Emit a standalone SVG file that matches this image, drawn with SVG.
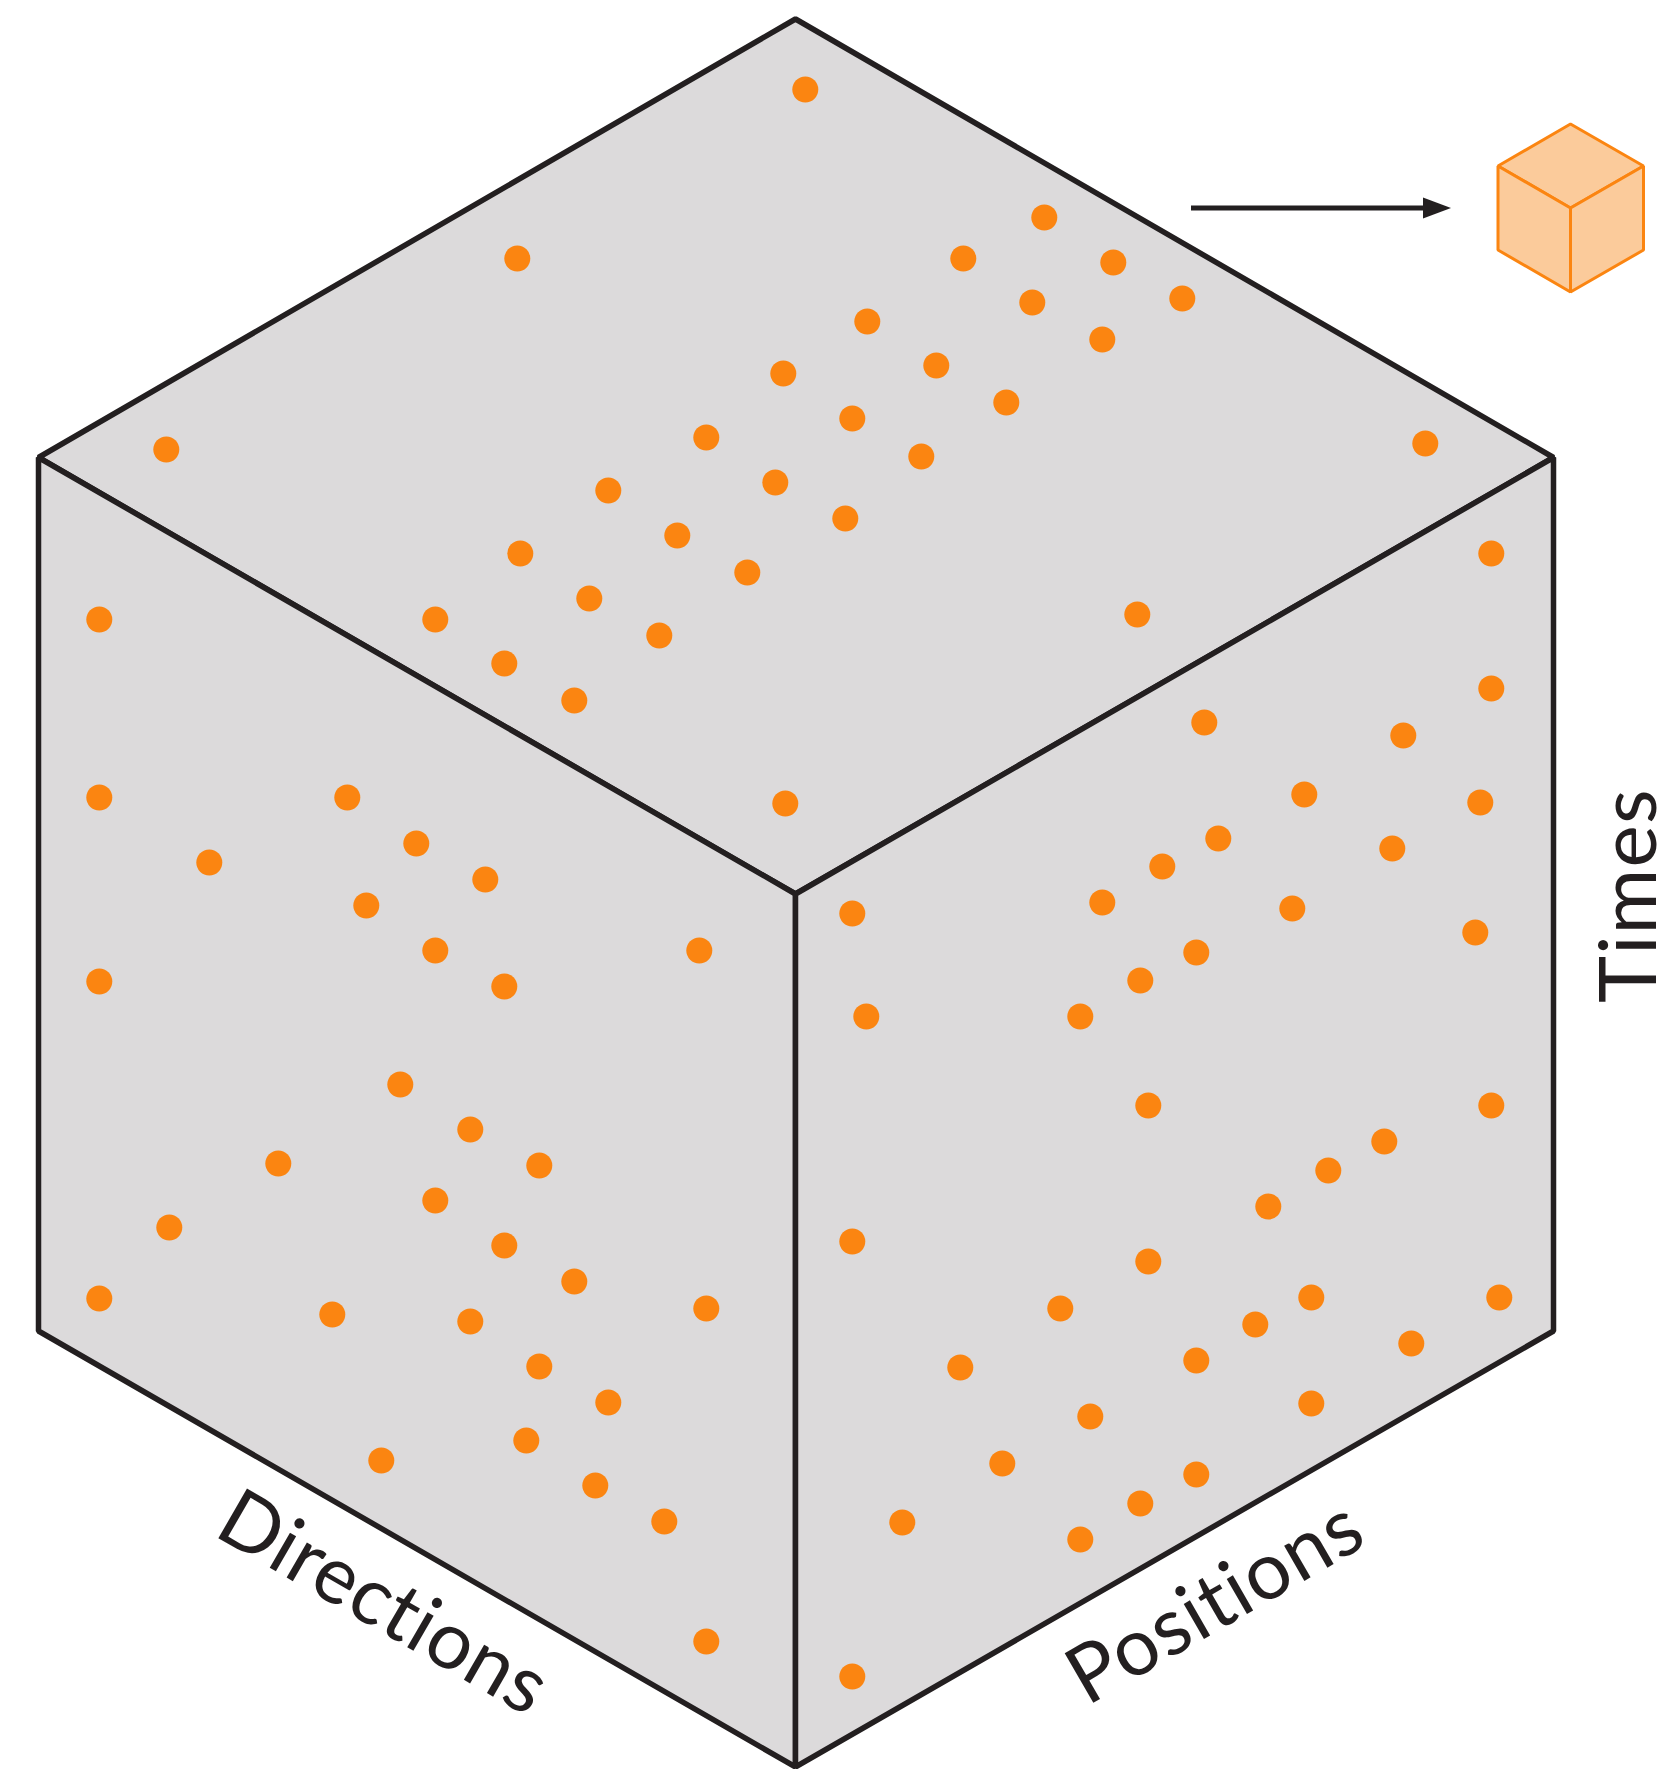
<svg xmlns="http://www.w3.org/2000/svg" width="1666" height="1769" viewBox="0 0 1666 1769">
<style>
.face{fill:#dcdadb;stroke:#231f20;stroke-width:5.5;stroke-linejoin:bevel}
.small{fill:#fbcb9b;stroke:#fb8511;stroke-width:3;stroke-linejoin:bevel}
.dots circle{fill:#fb8511}
.lbl{font-family:"Lato","Open Sans",sans-serif;font-size:80px;fill:#231f20}
</style>
<g id="cube">
<path class="face" d="M795.5 19L1553.5 457.5L795.5 894L38.5 457.5Z"/>
<path class="face" d="M38.5 457.5L795.5 894V1767L38.5 1331Z"/>
<path class="face" d="M1553.5 457.5L795.5 894V1767L1553.5 1331Z"/>
</g>
<g transform="translate(0.3 0.5)">
<g id="dots-top" class="dots">
<circle cx="805" cy="89" r="13"/><circle cx="517" cy="258" r="13"/><circle cx="1044" cy="217" r="13"/><circle cx="963" cy="258" r="13"/><circle cx="1113" cy="262" r="13"/><circle cx="867" cy="321" r="13"/><circle cx="1032" cy="302" r="13"/><circle cx="1182" cy="298" r="13"/><circle cx="1102" cy="339" r="13"/><circle cx="783" cy="373" r="13"/><circle cx="936" cy="365" r="13"/><circle cx="1006" cy="402" r="13"/><circle cx="706" cy="437" r="13"/><circle cx="852" cy="418" r="13"/><circle cx="921" cy="456" r="13"/><circle cx="166" cy="449" r="13"/><circle cx="1425" cy="443" r="13"/><circle cx="608" cy="490" r="13"/><circle cx="775" cy="482" r="13"/><circle cx="845" cy="518" r="13"/><circle cx="520" cy="553" r="13"/><circle cx="677" cy="535" r="13"/><circle cx="747" cy="572" r="13"/><circle cx="435" cy="619" r="13"/><circle cx="589" cy="598" r="13"/><circle cx="659" cy="635" r="13"/><circle cx="504" cy="663" r="13"/><circle cx="574" cy="700" r="13"/><circle cx="1137" cy="614" r="13"/><circle cx="785" cy="803" r="13"/>
</g>
<g id="dots-left" class="dots">
<circle cx="99" cy="619" r="13"/><circle cx="99" cy="797" r="13"/><circle cx="347" cy="797" r="13"/><circle cx="416" cy="843" r="13"/><circle cx="485" cy="879" r="13"/><circle cx="209" cy="862" r="13"/><circle cx="366" cy="905" r="13"/><circle cx="435" cy="950" r="13"/><circle cx="504" cy="986" r="13"/><circle cx="699" cy="950" r="13"/><circle cx="99" cy="981" r="13"/><circle cx="400" cy="1084" r="13"/><circle cx="470" cy="1129" r="13"/><circle cx="539" cy="1165" r="13"/><circle cx="278" cy="1163" r="13"/><circle cx="435" cy="1200" r="13"/><circle cx="504" cy="1245" r="13"/><circle cx="574" cy="1281" r="13"/><circle cx="169" cy="1227" r="13"/><circle cx="99" cy="1298" r="13"/><circle cx="332" cy="1314" r="13"/><circle cx="470" cy="1321" r="13"/><circle cx="706" cy="1308" r="13"/><circle cx="539" cy="1366" r="13"/><circle cx="608" cy="1402" r="13"/><circle cx="381" cy="1460" r="13"/><circle cx="526" cy="1440" r="13"/><circle cx="595" cy="1485" r="13"/><circle cx="664" cy="1521" r="13"/><circle cx="706" cy="1641" r="13"/>
</g>
<g id="dots-right" class="dots">
<circle cx="1491" cy="553" r="13"/><circle cx="1491" cy="688" r="13"/><circle cx="1204" cy="722" r="13"/><circle cx="1403" cy="735" r="13"/><circle cx="1304" cy="794" r="13"/><circle cx="1480" cy="802" r="13"/><circle cx="1218" cy="838" r="13"/><circle cx="1162" cy="866" r="13"/><circle cx="1392" cy="848" r="13"/><circle cx="1102" cy="902" r="13"/><circle cx="1292" cy="908" r="13"/><circle cx="1475" cy="932" r="13"/><circle cx="1196" cy="952" r="13"/><circle cx="1140" cy="980" r="13"/><circle cx="1080" cy="1016" r="13"/><circle cx="852" cy="913" r="13"/><circle cx="866" cy="1016" r="13"/><circle cx="1148" cy="1105" r="13"/><circle cx="1491" cy="1105" r="13"/><circle cx="1384" cy="1141" r="13"/><circle cx="1328" cy="1170" r="13"/><circle cx="1268" cy="1206" r="13"/><circle cx="852" cy="1241" r="13"/><circle cx="1148" cy="1261" r="13"/><circle cx="1060" cy="1308" r="13"/><circle cx="1311" cy="1297" r="13"/><circle cx="1499" cy="1297" r="13"/><circle cx="1255" cy="1324" r="13"/><circle cx="1411" cy="1343" r="13"/><circle cx="1196" cy="1360" r="13"/><circle cx="960" cy="1367" r="13"/><circle cx="1090" cy="1416" r="13"/><circle cx="1311" cy="1403" r="13"/><circle cx="1002" cy="1463" r="13"/><circle cx="1196" cy="1474" r="13"/><circle cx="1140" cy="1503" r="13"/><circle cx="1080" cy="1539" r="13"/><circle cx="902" cy="1522" r="13"/><circle cx="852" cy="1676" r="13"/>
</g>
</g>
<g id="connectors">
<path d="M1191 208H1430" stroke="#231f20" stroke-width="5" fill="none"/>
<path d="M1423 197.500L1451 208L1423 218.500Z" fill="#231f20"/>
</g>
<g id="small-cube">
<path class="small" d="M1570.500 124L1643.500 166L1570.500 208L1498 166Z"/>
<path class="small" d="M1498 166L1570.500 208V292L1498 250Z"/>
<path class="small" d="M1643.500 166L1570.500 208V292L1643.500 250Z"/>
</g>
<g id="labels">
<text class="lbl" letter-spacing="0.6" transform="translate(212 1534.500) rotate(30)">Directions</text>
<text class="lbl" letter-spacing="1" transform="translate(1087 1706.500) rotate(-30)">Positions</text>
<text class="lbl" letter-spacing="1.200" transform="translate(1656 1003) rotate(-90)">Times</text>
</g>
</svg>
